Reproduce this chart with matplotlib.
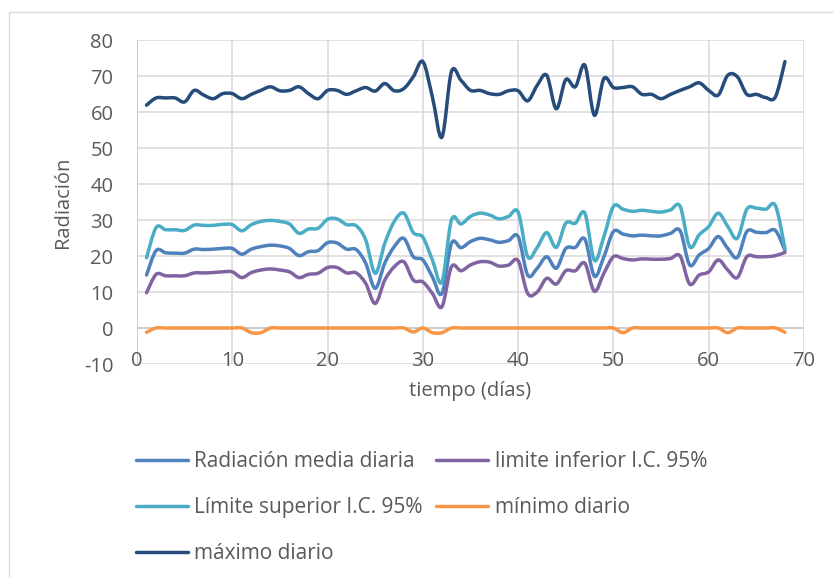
#!/usr/bin/env python3
"""Radiación diaria: media, intervalo de confianza 95%, mínimo y máximo."""

import matplotlib

matplotlib.use("Agg")
import matplotlib.pyplot as plt
from matplotlib.lines import Line2D
from matplotlib.patches import PathPatch, Rectangle
from matplotlib.path import Path

plt.rcParams["font.family"] = ["Open Sans", "DejaVu Sans"]
plt.rcParams["axes.unicode_minus"] = False

dias = list(range(1, 69))

media = [
    14.7, 21.5, 20.9, 20.8, 20.8, 21.9, 21.8, 21.9, 22.1, 22.1,
    20.5, 21.9, 22.6, 23.0, 22.8, 22.1, 20.1, 21.2, 21.5, 23.7,
    23.6, 21.9, 21.8, 18.0, 11.0, 18.0, 22.6, 24.9, 19.8, 18.9,
    14.2, 9.6, 23.5, 22.3, 24.0, 24.9, 24.5, 23.8, 24.3, 25.4,
    14.7, 16.6, 19.8, 16.6, 22.1, 22.4, 24.7, 14.4, 19.8, 26.8,
    26.1, 25.6, 25.8, 25.6, 25.6, 26.3, 27.0, 17.5, 20.3, 22.1,
    25.4, 22.1, 19.6, 26.8, 26.6, 26.5, 27.1, 21.6,
]

limite_inferior = [
    9.8, 14.9, 14.5, 14.5, 14.5, 15.3, 15.3, 15.4, 15.6, 15.6,
    14.0, 15.4, 16.1, 16.4, 16.1, 15.6, 14.0, 14.9, 15.2, 16.8,
    16.8, 15.3, 15.3, 12.4, 6.8, 13.3, 17.0, 18.4, 13.3, 12.8,
    9.6, 5.9, 17.0, 15.9, 17.5, 18.4, 18.3, 17.2, 17.5, 18.7,
    9.6, 10.0, 13.8, 12.2, 15.9, 15.9, 18.0, 10.2, 15.2, 19.8,
    19.3, 18.9, 19.2, 19.1, 19.1, 19.3, 20.0, 12.2, 14.7, 15.6,
    18.9, 16.1, 14.0, 19.8, 19.8, 19.8, 20.1, 21.0,
]

limite_superior = [
    19.5, 27.9, 27.3, 27.3, 27.1, 28.6, 28.5, 28.5, 28.8, 28.7,
    27.0, 28.7, 29.6, 29.9, 29.6, 28.9, 26.3, 27.5, 27.7, 30.2,
    30.3, 28.7, 28.4, 24.5, 15.2, 23.5, 29.6, 31.9, 26.5, 25.2,
    18.9, 12.8, 30.0, 28.9, 31.0, 31.9, 31.4, 30.3, 31.0, 32.2,
    19.8, 22.4, 26.5, 22.4, 29.1, 29.1, 31.9, 18.8, 25.4, 33.8,
    33.0, 32.4, 32.7, 32.4, 32.2, 32.8, 33.8, 22.6, 25.9, 28.2,
    31.9, 28.2, 24.9, 33.0, 33.3, 33.0, 34.0, 22.1,
]

minimo = [
    -1.2, 0, 0, 0, 0, 0, 0, 0, 0, 0,
    0, -1.3, -1.3, 0, 0, 0, 0, 0, 0, 0,
    0, 0, 0, 0, 0, 0, 0, 0, -1.1, 0,
    -1.3, -1.3, 0, 0, 0, 0, 0, 0, 0, 0,
    0, 0, 0, 0, 0, 0, 0, 0, 0, 0,
    -1.3, 0, 0, 0, 0, 0, 0, 0, 0, 0,
    0, -1.3, 0, 0, 0, 0, 0, -1.2,
]

maximo = [
    61.9, 63.9, 63.9, 63.9, 62.8, 66.0, 64.7, 63.7, 65.1, 65.1,
    63.7, 64.9, 66.0, 67.0, 65.9, 66.0, 67.0, 65.1, 63.7, 66.0,
    66.0, 64.9, 65.9, 66.8, 65.8, 67.9, 65.9, 66.5, 69.8, 74.0,
    64.2, 53.0, 71.2, 68.8, 66.0, 66.0, 65.1, 64.9, 65.9, 65.9,
    63.1, 67.4, 70.2, 60.9, 69.0, 67.0, 73.0, 59.1, 69.3, 66.8,
    66.8, 67.0, 64.9, 64.9, 63.7, 64.9, 66.0, 67.0, 68.1, 66.0,
    64.7, 70.2, 69.8, 64.9, 64.9, 64.0, 64.2, 74.0,
]

series = [
    ("Radiación media diaria", media, "#4F81BD"),
    ("limite inferior I.C. 95%", limite_inferior, "#8064A2"),
    ("Límite superior I.C. 95%", limite_superior, "#4BACC6"),
    ("mínimo diario", minimo, "#F79646"),
    ("máximo diario", maximo, "#264C7B"),
]

TEXT = "#595959"
GRID = "#D9D9D9"
LW = 2.5


def smooth_path(xs, ys):
    """Excel-like smoothed line: cubic Bezier through every data point."""
    pts = list(zip(xs, ys))
    n = len(pts)
    verts = [pts[0]]
    codes = [Path.MOVETO]
    for i in range(n - 1):
        p0 = pts[max(i - 1, 0)]
        p1 = pts[i]
        p2 = pts[i + 1]
        p3 = pts[min(i + 2, n - 1)]
        c1 = (p1[0] + (p2[0] - p0[0]) / 6, p1[1] + (p2[1] - p0[1]) / 6)
        c2 = (p2[0] - (p3[0] - p1[0]) / 6, p2[1] - (p3[1] - p1[1]) / 6)
        verts += [c1, c2, p2]
        codes += [Path.CURVE4] * 3
    return Path(verts, codes)


fig = plt.figure(figsize=(8.33, 5.77), dpi=100)
W, H = 833, 577

# light chart border
fig.add_artist(Rectangle((8.5 / W, -0.1), 1.0, 1.1 - 12 / H,
                         transform=fig.transFigure, fill=False,
                         edgecolor=GRID, linewidth=1.0))

ax = fig.add_axes([137 / W, 1 - 364 / H, (804 - 137) / W, (364 - 40) / H])
ax.set_xlim(0, 70)
ax.set_ylim(-10, 80)
ax.set_xticks(range(0, 71, 10))
ax.set_yticks(range(-10, 81, 10))

for y in range(-10, 81, 10):
    ax.axhline(y, color="#BFBFBF" if y == 0 else GRID, lw=1.1, zorder=0)
for x in range(10, 71, 10):
    ax.axvline(x, color=GRID, lw=1.1, zorder=0)
ax.axvline(0, color="#BFBFBF", lw=1.1, zorder=0)

for spine in ax.spines.values():
    spine.set_visible(False)

ax.tick_params(axis="both", length=0, labelsize=14.5, labelcolor=TEXT)
ax.tick_params(axis="y", pad=17)
ax.tick_params(axis="x", pad=-9.5)

handles = {}
for label, values, color in series:
    patch = PathPatch(smooth_path(dias, values), fill=False, edgecolor=color,
                      linewidth=LW, capstyle="round", joinstyle="round",
                      zorder=3)
    ax.add_patch(patch)
    handles[label] = Line2D([], [], color=color, lw=LW,
                            solid_capstyle="round", label=label)

ax.set_xlabel("tiempo (días)", fontsize=14.5, color=TEXT, labelpad=7)
ax.set_ylabel("Radiación", fontsize=14.5, color=TEXT, labelpad=8)

# legend is filled column by column, so order it to read row by row
order = ["Radiación media diaria", "Límite superior I.C. 95%", "máximo diario",
         "limite inferior I.C. 95%", "mínimo diario"]
fig.legend(handles=[handles[k] for k in order], ncol=2, loc="upper left",
           bbox_to_anchor=(136 / W, 1 - 451 / H), frameon=False,
           fontsize=15, labelcolor=TEXT, handlelength=2.5,
           handletextpad=0.3, columnspacing=0.65, labelspacing=1.2,
           borderpad=0, borderaxespad=0)

fig.savefig("out.png", dpi=100, facecolor="white")
